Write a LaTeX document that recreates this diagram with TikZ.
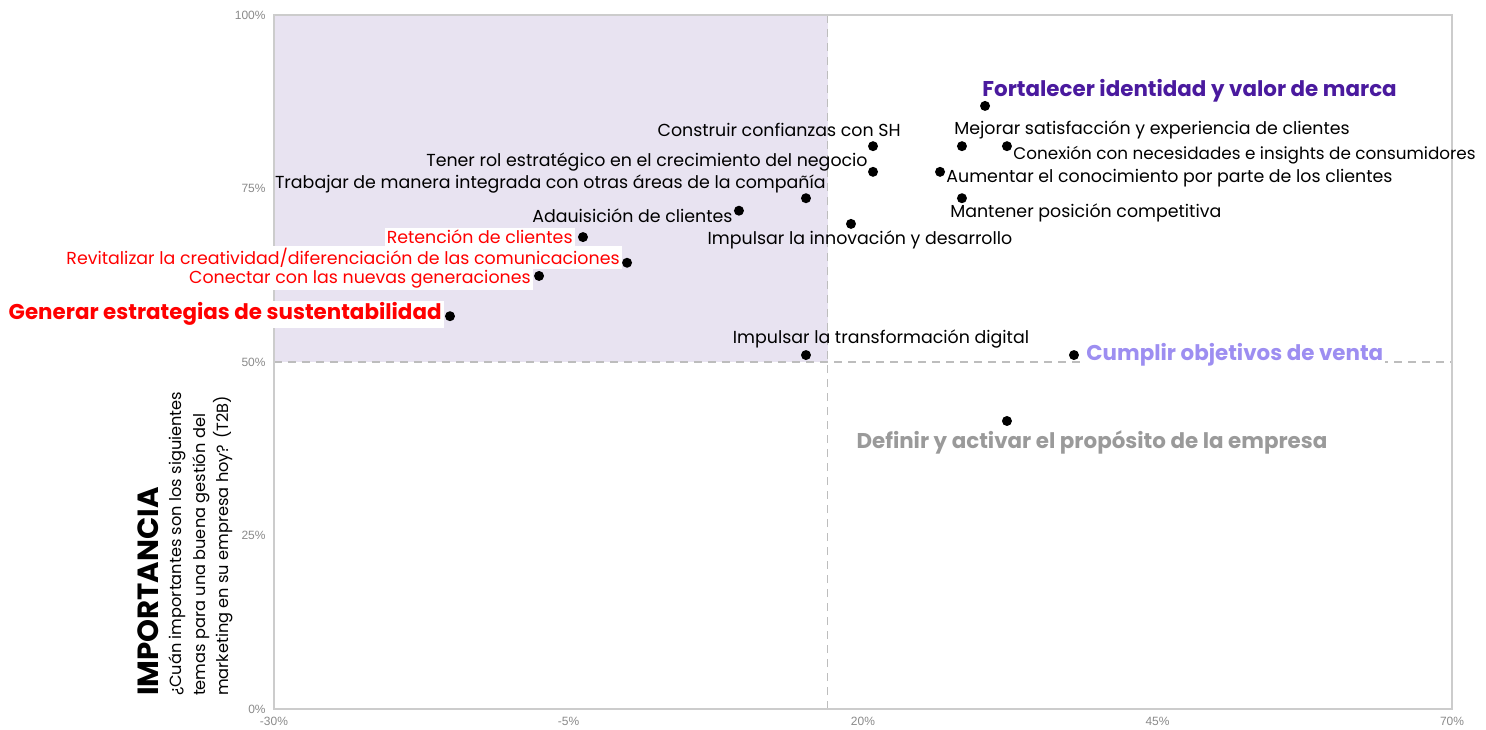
\documentclass[tikz,border=0pt]{standalone}
\usepackage{fontspec}
\setmainfont{Poppins}
\newfontfamily\tickfont{Liberation Sans}
\usetikzlibrary{positioning,calc}
\definecolor{quadfill}{HTML}{E8E3F1}
\definecolor{framegray}{HTML}{CCCCCC}
\definecolor{dashgray}{HTML}{BDBDBD}
\definecolor{tickgray}{HTML}{8A8A8A}
\definecolor{brandpurple}{HTML}{4A1A9E}
\definecolor{salespurple}{HTML}{9D8EF1}
\definecolor{purposegray}{HTML}{9A9A9A}
\definecolor{alertred}{HTML}{FF0000}
\tikzset{
  dot/.style={circle, fill=black, inner sep=0pt, minimum size=5pt},
  lbl/.style={inner sep=1pt, font=\fontsize{8.7}{10}\selectfont},
  redlbl/.style={lbl, text=alertred, fill=white},
  keylbl/.style={inner sep=1pt, font=\fontsize{10.7}{12}\selectfont\bfseries},
  ticklbl/.style={text=tickgray, inner sep=1pt, font=\tickfont\fontsize{6}{7}\selectfont},
  guide/.style={draw=dashgray, dashed, dash pattern=on 4pt off 3pt, line width=0.6pt}
}

\begin{document}
\begin{tikzpicture}[x=5.89pt, y=3.47pt]
  \useasboundingbox (-313.7pt,-10pt) rectangle (429.3pt,354.5pt);
  % quadrant and frame
  \fill[quadfill] (-30,50) rectangle (17,100);
  \draw[guide] (17,0) -- (17,100);
  \draw[guide] (-30,50) -- (70,50);
  \draw[framegray, line width=0.9pt] (-30,0) rectangle (70,100);
  \foreach \v in {0,25,50,75,100}
    \node[ticklbl, anchor=east] (ytick-\v) at ([xshift=-3pt]-30,\v) {\v\%};
  \foreach \v in {-30,-5,20,45,70}
    \node[ticklbl, anchor=north] (xtick\v) at ([yshift=-3pt]\v,0) {\v\%};

  \node[rotate=90, anchor=west, font=\fontsize{14.6}{16}\selectfont\bfseries] (ytitle) at ([shift={(-63pt,3pt)}]-30,0) {IMPORTANCIA};
  \node[rotate=90, anchor=west, align=left, font=\fontsize{8.1}{11.7}\selectfont] (ysub) at ([shift={(-36.5pt,3pt)}]-30,0)
    {¿Cuán importantes son los siguientes\\temas para una buena gestión del\\marketing en su empresa hoy? (T2B)};

  % data points
  \node[dot] (fortalecer) at (30.36,86.9) {};
  \node[dot] (mejorar) at (28.40,81.1) {};
  \node[dot] (conexion) at (32.22,81.1) {};
  \node[dot] (aumentar) at (26.54,77.4) {};
  \node[dot] (mantener) at (28.40,73.6) {};
  \node[dot] (construir) at (20.85,81.1) {};
  \node[dot] (rol) at (20.85,77.4) {};
  \node[dot] (integrada) at (15.16,73.6) {};
  \node[dot] (adquisicion) at (9.47,71.8) {};
  \node[dot] (innovacion) at (18.98,69.9) {};
  \node[dot] (retencion) at (-3.77,68.0) {};
  \node[dot] (revitalizar) at (-0.03,64.3) {};
  \node[dot] (generaciones) at (-7.50,62.4) {};
  \node[dot] (sustentabilidad) at (-15.06,56.6) {};
  \node[dot] (digital) at (15.16,51.0) {};
  \node[dot] (ventas) at (37.91,51.0) {};
  \node[dot] (proposito) at (32.22,41.5) {};

  % labels
  \node[keylbl, text=brandpurple, anchor=west] (fortalecer-l) at ([shift={(-2.5pt,7.5pt)}]fortalecer.center) {Fortalecer identidad y valor de marca};
  \node[lbl, anchor=west] (mejorar-l) at ([shift={(-5pt,8pt)}]mejorar.center) {Mejorar satisfacción y experiencia de clientes};
  \node[lbl, anchor=west, font=\fontsize{8.4}{10}\selectfont] (conexion-l) at ([shift={(2pt,-4.5pt)}]conexion.center) {Conexión con necesidades e insights de consumidores};
  \node[lbl, anchor=west] (aumentar-l) at ([shift={(2pt,-3pt)}]aumentar.center) {Aumentar el conocimiento por parte de los clientes};
  \node[lbl, anchor=west] (mantener-l) at ([shift={(-7pt,-7.5pt)}]mantener.center) {Mantener posición competitiva};
  \node[lbl, anchor=east] (construir-l) at ([shift={(15pt,8pt)}]construir.center) {Construir confianzas con SH};
  \node[lbl, anchor=east] (rol-l) at ([shift={(-1.5pt,5pt)}]rol.center) {Tener rol estratégico en el crecimiento del negocio};
  \node[lbl, anchor=east] (integrada-l) at ([shift={(11pt,7pt)}]integrada.center) {Trabajar de manera integrada con otras áreas de la compañía};
  \node[lbl, anchor=east] (adquisicion-l) at ([shift={(-2pt,-2.5pt)}]adquisicion.center) {Adauisición de clientes};
  \node[lbl] (innovacion-l) at ([shift={(4.5pt,-8pt)}]innovacion.center) {Impulsar la innovación y desarrollo};
  \node[redlbl, anchor=east] (retencion-l) at ([shift={(-4pt,0pt)}]retencion.center) {Retención de clientes};
  \node[redlbl, anchor=east] (revitalizar-l) at ([shift={(-2.5pt,2.5pt)}]revitalizar.center) {Revitalizar la creatividad/diferenciación de las comunicaciones};
  \node[redlbl, anchor=east] (generaciones-l) at ([shift={(-3pt,-1.5pt)}]generaciones.center) {Conectar con las nuevas generaciones};
  \node[keylbl, text=alertred, fill=white, anchor=east] (sustentabilidad-l) at ([shift={(-3pt,1pt)}]sustentabilidad.center) {Generar estrategias de sustentabilidad};
  \node[lbl] (digital-l) at ([shift={(37.5pt,8pt)}]digital.center) {Impulsar la transformación digital};
  \node[keylbl, text=salespurple, fill=white, anchor=west] (ventas-l) at ([shift={(5pt,0pt)}]ventas.center) {Cumplir objetivos de venta};
  \node[keylbl, text=purposegray] (proposito-l) at ([shift={(42.5pt,-10.5pt)}]proposito.center) {Definir y activar el propósito de la empresa};
\end{tikzpicture}
\end{document}
